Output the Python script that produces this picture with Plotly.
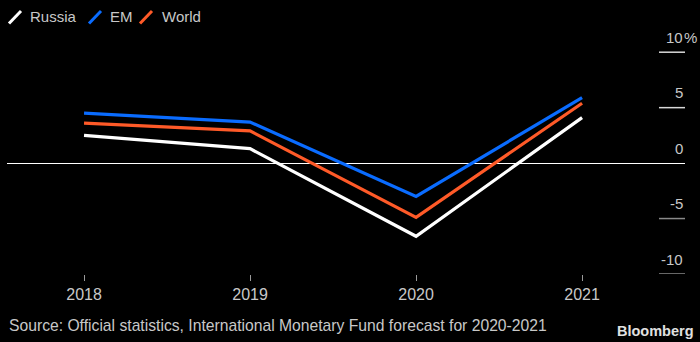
import plotly.graph_objects as go

# Real GDP growth, % (2020-2021 are IMF forecasts)
years = [2018, 2019, 2020, 2021]
russia = [2.5, 1.3, -6.6, 4.1]
em = [4.5, 3.7, -3.0, 5.9]
world = [3.6, 2.9, -4.9, 5.4]

series_names = ["Russia", "EM", "World"]
series_values = [russia, em, world]
series_colors = ["#ffffff", "#0a6cff", "#ff5a28"]

y_ticks = [10, 5, 0, -5, -10]
y_tick_labels = ["10", "5", "0", "-5", "-10"]
x_tick_labels = ["2018", "2019", "2020", "2021"]

source_text = "Source: Official statistics, International Monetary Fund forecast for 2020-2021"

FONT = "Liberation Sans, Arial, sans-serif"
TEXT = "#c8c8c8"

W, H = 700, 342
L, R, T, B = 7, 685, 40, 274  # plot area in pixels


def px(x):
    return (x - L) / (R - L)


def py(y):
    return (B - y) / (B - T)


fig = go.Figure()
for name, vals, col in zip(series_names, series_values, series_colors):
    fig.add_trace(go.Scatter(x=years, y=vals, mode="lines", name=name,
                             line=dict(color=col, width=3.2),
                             showlegend=False, hoverinfo="skip"))

shapes = []
annotations = []

# short gridline stubs at the right with labels above them
for v, lab in zip(y_ticks, y_tick_labels):
    if v != 0:
        shapes.append(dict(type="line", xref="paper", yref="y",
                           x0=px(659), x1=1.0, y0=v, y1=v,
                           line=dict(color="#d8d8d8" if v > 0 else "#8a8a8a", width=1.5)))
    annotations.append(dict(xref="paper", yref="y", x=1.0, y=v, yshift=15,
                            text=lab, showarrow=False, xanchor="right", yanchor="middle",
                            font=dict(family=FONT, size=15, color=TEXT)))
annotations.append(dict(xref="paper", yref="y", x=1.0, y=max(y_ticks), yshift=15, xshift=-3,
                        text="%", showarrow=False, xanchor="left", yanchor="middle",
                        font=dict(family=FONT, size=15, color=TEXT)))

# legend: slanted swatches with names
legend_swatches = [(9, 21), (89, 101), (140, 152)]
legend_text_x = [28, 108, 160]
for (sx0, sx1), tx, name, col in zip(legend_swatches, legend_text_x, series_names, series_colors):
    shapes.append(dict(type="line", xref="paper", yref="paper",
                       x0=px(sx0), x1=px(sx1), y0=py(23.5), y1=py(11),
                       line=dict(color=col, width=3)))
    annotations.append(dict(xref="paper", yref="paper", x=px(tx), y=py(16.5),
                            text=name, showarrow=False, xanchor="left", yanchor="middle",
                            font=dict(family=FONT, size=15, color=TEXT)))

annotations.append(dict(xref="paper", yref="paper", x=px(7), y=py(325),
                        text=source_text, showarrow=False, xanchor="left", yanchor="middle",
                        font=dict(family=FONT, size=15.7, color=TEXT)))
annotations.append(dict(xref="paper", yref="paper", x=px(696), y=py(331),
                        text="<b>Bloomberg</b>", showarrow=False, xanchor="right", yanchor="middle",
                        font=dict(family=FONT, size=14.5, color="#e0e0e0")))

fig.update_layout(
    width=W, height=H,
    margin=dict(l=L, r=W - R, t=T, b=H - B, pad=0),
    paper_bgcolor="#000000", plot_bgcolor="#000000",
    shapes=shapes, annotations=annotations,
    xaxis=dict(range=[2017.536, 2021.62], tickvals=years, ticktext=x_tick_labels,
               ticks="outside", ticklen=6, tickwidth=1, tickcolor="#9a9a9a",
               showgrid=False, zeroline=False, showline=False,
               tickfont=dict(family=FONT, size=16, color=TEXT)),
    yaxis=dict(range=[-10, 11.1], showticklabels=False, showgrid=False,
               zeroline=True, zerolinecolor="#ffffff", zerolinewidth=1,
               showline=False, ticks=""),
    showlegend=False,
)

fig.write_html("out.html")
